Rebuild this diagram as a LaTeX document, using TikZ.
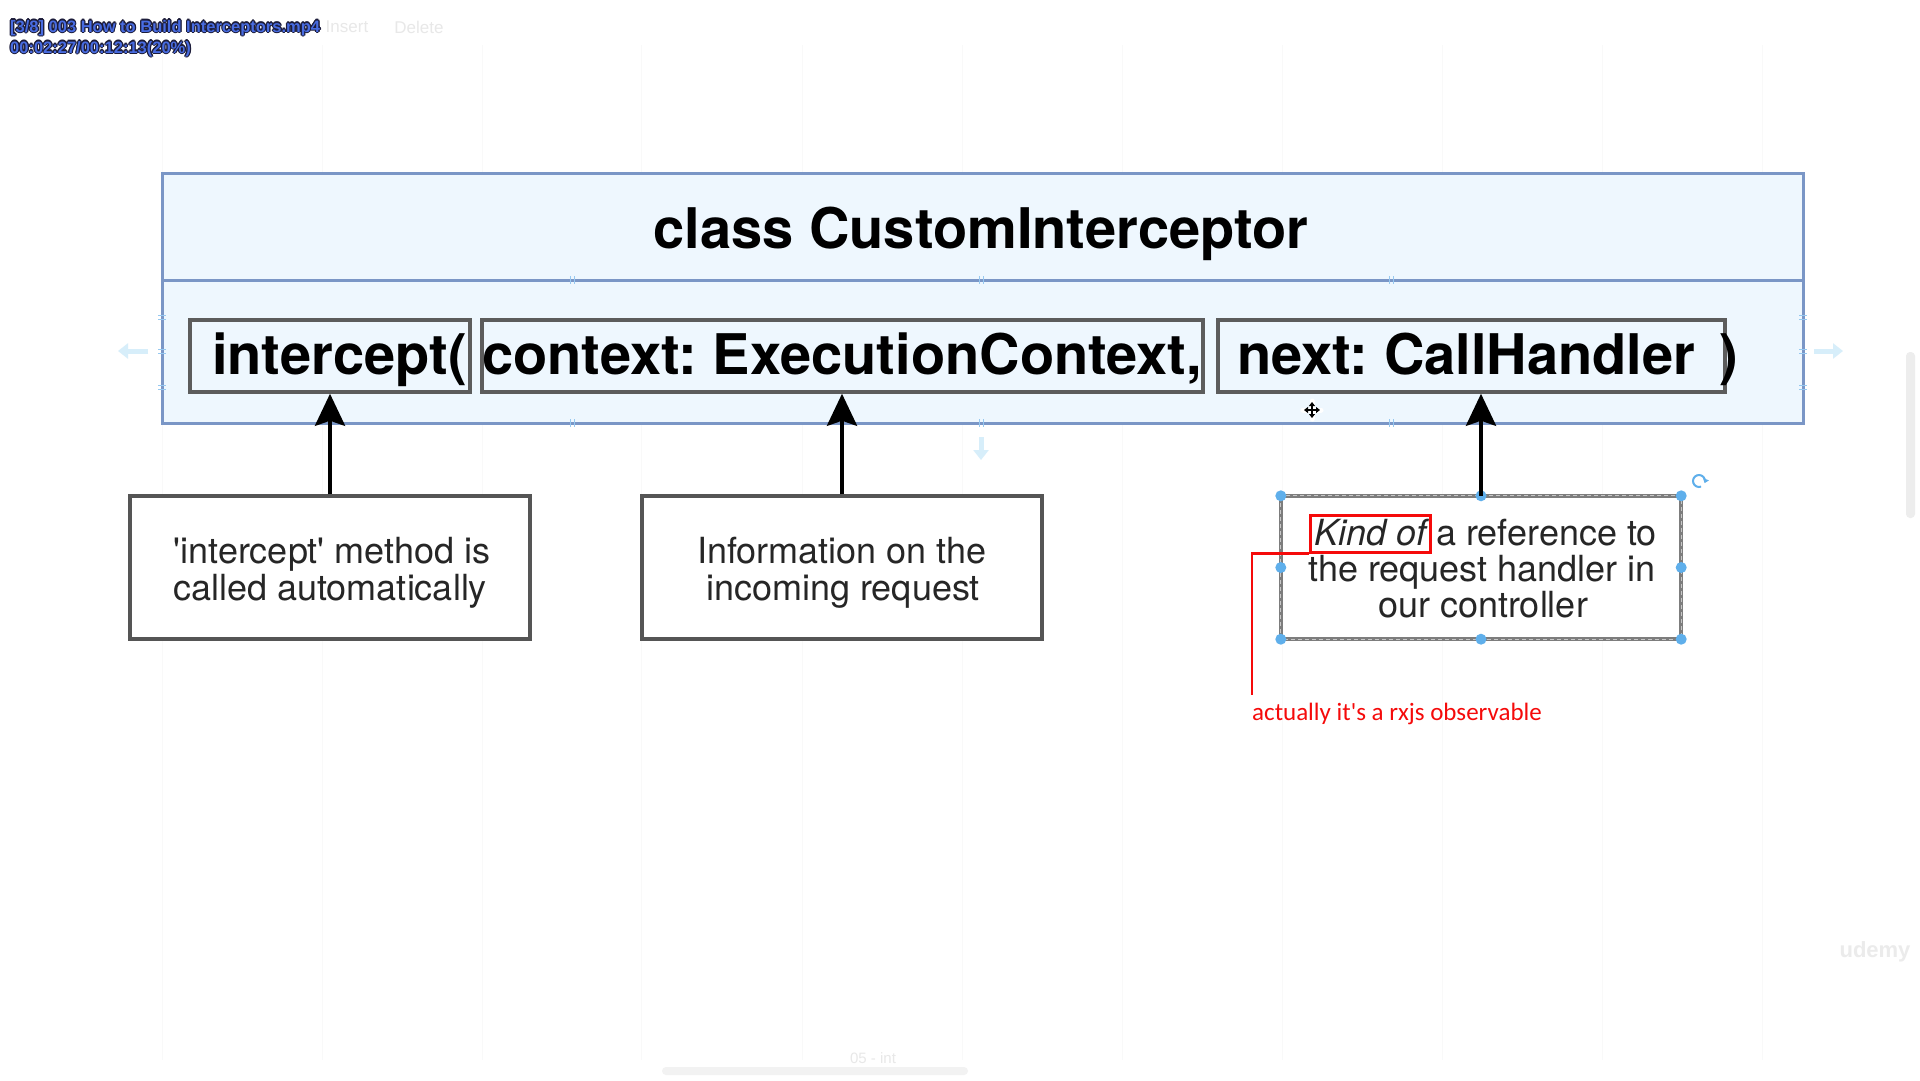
\documentclass[tikz,border=0pt]{standalone}
\usepackage{fontspec}
\setmainfont{TeX Gyre Heros}
\newfontfamily\notefont{Carlito}
\newfontfamily\osdfont{Liberation Sans}
\usetikzlibrary{arrows.meta,calc}
\frenchspacing

\definecolor{classfill}{RGB}{238,247,254}
\definecolor{classedge}{RGB}{122,150,198}
\definecolor{paramedge}{RGB}{92,92,92}
\definecolor{boxedge}{RGB}{85,85,85}
\definecolor{textdark}{RGB}{38,38,38}
\definecolor{handleblue}{RGB}{95,175,235}
\definecolor{tickblue}{RGB}{150,200,240}
\definecolor{faintblue}{RGB}{215,238,250}
\definecolor{osdblue}{RGB}{72,108,225}
\definecolor{osdedge}{RGB}{28,28,58}
\definecolor{selgray}{RGB}{125,125,125}
\definecolor{notered}{RGB}{245,10,10}

\newcommand\ovtext[1]{\leavevmode
  \rlap{\color{osdedge}\kern-1.2pt#1}\rlap{\color{osdedge}\kern1.2pt#1}%
  \rlap{\color{osdedge}\raisebox{1.2pt}{#1}}\rlap{\color{osdedge}\raisebox{-1.2pt}{#1}}%
  \rlap{\color{osdedge}\kern-0.9pt\raisebox{0.9pt}{#1}}\rlap{\color{osdedge}\kern0.9pt\raisebox{0.9pt}{#1}}%
  \rlap{\color{osdedge}\kern-0.9pt\raisebox{-0.9pt}{#1}}\rlap{\color{osdedge}\kern0.9pt\raisebox{-0.9pt}{#1}}%
  {\color{osdblue}#1}}

\begin{document}
\begin{tikzpicture}[x=1pt,y=-1pt,
  classbox/.style={draw=classedge, fill=classfill, line width=3pt, minimum width=1641pt, minimum height=250pt, inner sep=0pt},
  parambox/.style={draw=paramedge, line width=3.5pt, inner sep=0pt, minimum height=72pt},
  paramtext/.style={font=\bfseries\fontsize{56}{60}\selectfont, inner sep=0pt, anchor=base west},
  titletext/.style={font=\bfseries\fontsize{56}{60}\selectfont, inner sep=0pt, anchor=base},
  notebox/.style={draw=boxedge, fill=white, line width=3.5pt, minimum width=400pt, minimum height=143pt, inner sep=0pt},
  selbox/.style={fill=white, minimum width=400pt, minimum height=143pt, inner sep=0pt},
  notetext/.style={font=\fontsize{36}{37}\selectfont, text=textdark, inner sep=0pt, anchor=base},
  kindbox/.style={draw=notered, line width=3pt, font=\fontsize{36}{37}\selectfont\itshape, text=textdark,
                  inner xsep=4pt, inner ysep=0pt, text height=30pt, text depth=7pt, anchor=base west},
  pointer/.style={line width=4pt, -{Stealth[length=32pt,width=30pt,inset=5pt]}},
  handle/.style={circle, fill=handleblue, inner sep=0pt, minimum size=11pt},
  osd/.style={font=\osdfont\bfseries\fontsize{16.5}{21}\selectfont, inner sep=0pt, anchor=base west},
  faint/.style={inner sep=0pt, text=black!9},
  redline/.style={draw=notered, line width=2.5pt}
]
\useasboundingbox (0,0) rectangle (1920,1080);
\fill[white] (0,0) rectangle (1920,1080);

% faint background grid
\foreach \gx in {162,322,482,641,802,962,1122,1282,1442,1602,1762}
  \draw[black!2.5, line width=1pt] (\gx,45) -- (\gx,1060);

% faint toolbar texts
\node[faint, font=\osdfont\fontsize{17}{20}\selectfont] (ins) at (347,27) {Insert};
\node[faint, font=\osdfont\fontsize{17}{20}\selectfont] (del) at (419,27) {Delete};

% video overlay text
\node[osd] (osd1) at (10,32) {\ovtext{[3/8] 003 How to Build Interceptors.mp4}};
\node[osd] (osd2) at (10,53) {\ovtext{00:02:27/00:12:13(20\%)}};

% class box
\node[classbox] (cls) at (982.5,298) {};
\coordinate (divL) at (162,280);
\coordinate (divR) at (1803,280);
\draw[classedge, line width=3pt] (divL) -- (divR);

% connection ticks on the class box
\foreach \ty in {317,351,387} {
  \draw[tickblue, line width=1pt] (158,\ty-2) -- (166,\ty-2) (158,\ty+2) -- (166,\ty+2);
  \draw[tickblue, line width=1pt] (1799,\ty-2) -- (1807,\ty-2) (1799,\ty+2) -- (1807,\ty+2);
}
\foreach \tx in {572,981,1391} {
  \draw[tickblue, line width=1pt] (\tx-2,276) -- (\tx-2,284) (\tx+2,276) -- (\tx+2,284);
  \draw[tickblue, line width=1pt] (\tx-2,419) -- (\tx-2,427) (\tx+2,419) -- (\tx+2,427);
}

% faint side arrows
\coordinate (la1) at (148,351); \coordinate (la2) at (118,351);
\coordinate (ra1) at (1814,351); \coordinate (ra2) at (1843,351);
\coordinate (da1) at (981,437); \coordinate (da2) at (981,460);
\draw[faintblue, line width=5pt, -{Triangle[length=10pt,width=15pt]}] (la1) -- (la2);
\draw[faintblue, line width=5pt, -{Triangle[length=10pt,width=15pt]}] (ra1) -- (ra2);
\draw[faintblue, line width=5pt, -{Triangle[length=10pt,width=15pt]}] (da1) -- (da2);

\node[titletext] (title) at (981,248) {class CustomInterceptor};

% parameter boxes
\node[parambox, minimum width=280pt] (p1) at (330,356) {};
\node[parambox, minimum width=721pt] (p2) at (842.5,356) {};
\node[parambox, minimum width=507pt] (p3) at (1471.5,356) {};
\node[paramtext] (t1) at (212,374) {intercept(};
\node[paramtext] (t2) at (482,374) {context: ExecutionContext,};
\node[paramtext] (t3) at (1237,374) {next: CallHandler};
\node[paramtext] (t4) at (1719,374) {)};

% move cursor
\coordinate (cur) at (1312,410);
\draw[white, line width=5pt, line cap=round] ($(cur)+(-9,0)$) -- ($(cur)+(9,0)$) ($(cur)+(0,-9)$) -- ($(cur)+(0,9)$);
\draw[black, line width=1.6pt, {Triangle[length=4pt,width=6pt]}-{Triangle[length=4pt,width=6pt]}] ($(cur)+(-8,0)$) -- ($(cur)+(8,0)$);
\draw[black, line width=1.6pt, {Triangle[length=4pt,width=6pt]}-{Triangle[length=4pt,width=6pt]}] ($(cur)+(0,-8)$) -- ($(cur)+(0,8)$);

% explanation boxes
\node[notebox] (b1) at (330,567.5) {};
\node[notebox] (b2) at (842,567.5) {};
\node[selbox] (b3) at (1481,567.5) {};
\draw[selgray, line width=3.5pt] (b3.north west) rectangle (b3.south east);
\draw[black!22, line width=1pt, dash pattern=on 4pt off 3pt] (b3.north west) rectangle (b3.south east);

\node[notetext] (b1a) at (332,563) {\textquotesingle intercept\textquotesingle{} method is};
\node[notetext] (b1b) at (330,600) {called automatically};
\node[notetext] (b2a) at (842,563) {Information on the};
\node[notetext] (b2b) at (843,600) {incoming request};
\node[kindbox] (kind) at (1309,545) {Kind of};
\node[notetext, anchor=base west] (b3a) at ([xshift=4pt]kind.base east) {a reference to};
\node[notetext] (b3b) at (1482,581) {the request handler in};
\node[notetext] (b3c) at (1483,617) {our controller};

% selection handles
\foreach \a/\n in {north west/1,north/2,north east/3,west/4,east/5,south west/6,south/7,south east/8}
  \node[handle] (h\n) at (b3.\a) {};
\coordinate (rot) at (1699,481);
\draw[handleblue, line width=2pt, -{Triangle[length=4pt,width=6pt]}] ([shift={(70:6)}]rot) arc[start angle=70, end angle=380, radius=6];

% arrows
\draw[pointer] (b1.north) -- (p1.south);
\draw[pointer] (b2.north) -- (b2.north |- p2.south);
\draw[pointer] (b3.north) -- (b3.north |- p3.south);

% red annotation
\node[font=\notefont\fontsize{25}{30}\selectfont, text=notered, inner sep=0pt, anchor=base west] (note) at (1252,720) {actually it\textquotesingle s a rxjs observable};
\coordinate (redend) at (1252,695);
\draw[redline] (kind.south west) -| (redend);

% scrollbar, bottom bar, watermark
\fill[black!7, rounded corners=4pt] (1906,352) rectangle (1915,518);
\fill[black!5, rounded corners=4pt] (662,1067) rectangle (968,1075);
\node[faint, font=\osdfont\fontsize{15}{18}\selectfont] (tab) at (873,1058) {05 - int};
\node[faint, font=\osdfont\bfseries\fontsize{22}{24}\selectfont, text=black!8] (udemy) at (1875,952) {udemy};
\end{tikzpicture}
\end{document}
